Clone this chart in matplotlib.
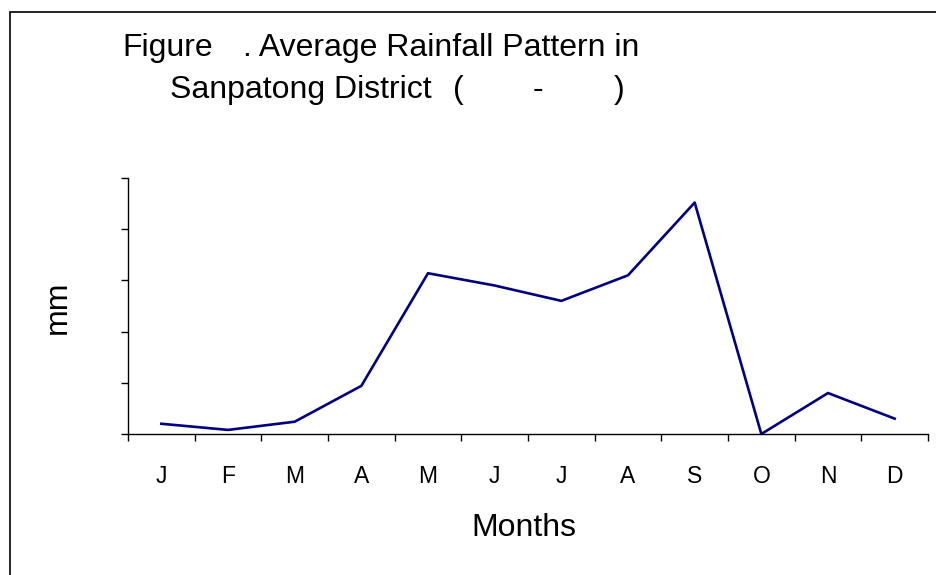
import matplotlib
matplotlib.use('Agg')
import matplotlib.pyplot as plt
from matplotlib.patches import Rectangle

plt.rcParams['font.family'] = ['Liberation Sans', 'DejaVu Sans']

# monthly average rainfall (mm) (axis has no labels)
months = ['J', 'F', 'M', 'A', 'M', 'J', 'J', 'A', 'S', 'O', 'N', 'D']
rain = [10, 4, 12, 47, 157, 145, 130, 155, 226, 0, 40, 15]
y_ticks = [0, 50, 100, 150, 200, 250]

W, H = 937, 575
fig = plt.figure(figsize=(W / 100, H / 100), dpi=100)

# frame around the whole chart (runs off the right and bottom edge)
fig.patches.append(Rectangle((10 / W, -0.1), 1.2, 1 - 12 / H + 0.1,
                             transform=fig.transFigure, fill=False,
                             edgecolor='black', linewidth=1.2))

ax = fig.add_axes([128 / W, 1 - 434 / H, 800 / W, 256 / H])
x = [i + 0.5 for i in range(len(months))]
ax.plot(x, rain, color='#000080', linewidth=1.9, clip_on=False)

ax.set_xlim(0, 12)
ax.set_ylim(0, 250)
ax.set_yticks(y_ticks)
ax.set_yticklabels([])
ax.set_xticks(range(13))
ax.set_xticklabels([])
ax.set_xticks(x, minor=True)
ax.set_xticklabels(months, minor=True, fontsize=16.5)
ax.tick_params(axis='x', which='major', direction='out', length=5, width=1)
ax.tick_params(axis='x', which='minor', length=0, pad=22)
ax.tick_params(axis='y', direction='out', length=5, width=1)
for s in ['top', 'right']:
    ax.spines[s].set_visible(False)
for s in ['left', 'bottom']:
    ax.spines[s].set_linewidth(1)

fig.text(524 / W, 1 - 528 / H, 'Months', fontsize=23, ha='center', va='center')
fig.text(58 / W, 1 - 307 / H, 'mm', fontsize=23, ha='center', va='center',
         rotation=90)

# title pieces (the figure number and years are blank in the original)
t1 = 1 - 48 / H
t2 = 1 - 90 / H
fig.text(122 / W, t1, 'Figure', fontsize=23, va='center')
fig.text(243 / W, t1, '. Average Rainfall Pattern in', fontsize=23, va='center')
fig.text(170 / W, t2, 'Sanpatong District', fontsize=23, va='center')
fig.text(453 / W, t2, '(', fontsize=23, va='center')
fig.text(533 / W, t2, '-', fontsize=23, va='center')
fig.text(614 / W, t2, ')', fontsize=23, va='center')

fig.savefig('out.png', dpi=100)
